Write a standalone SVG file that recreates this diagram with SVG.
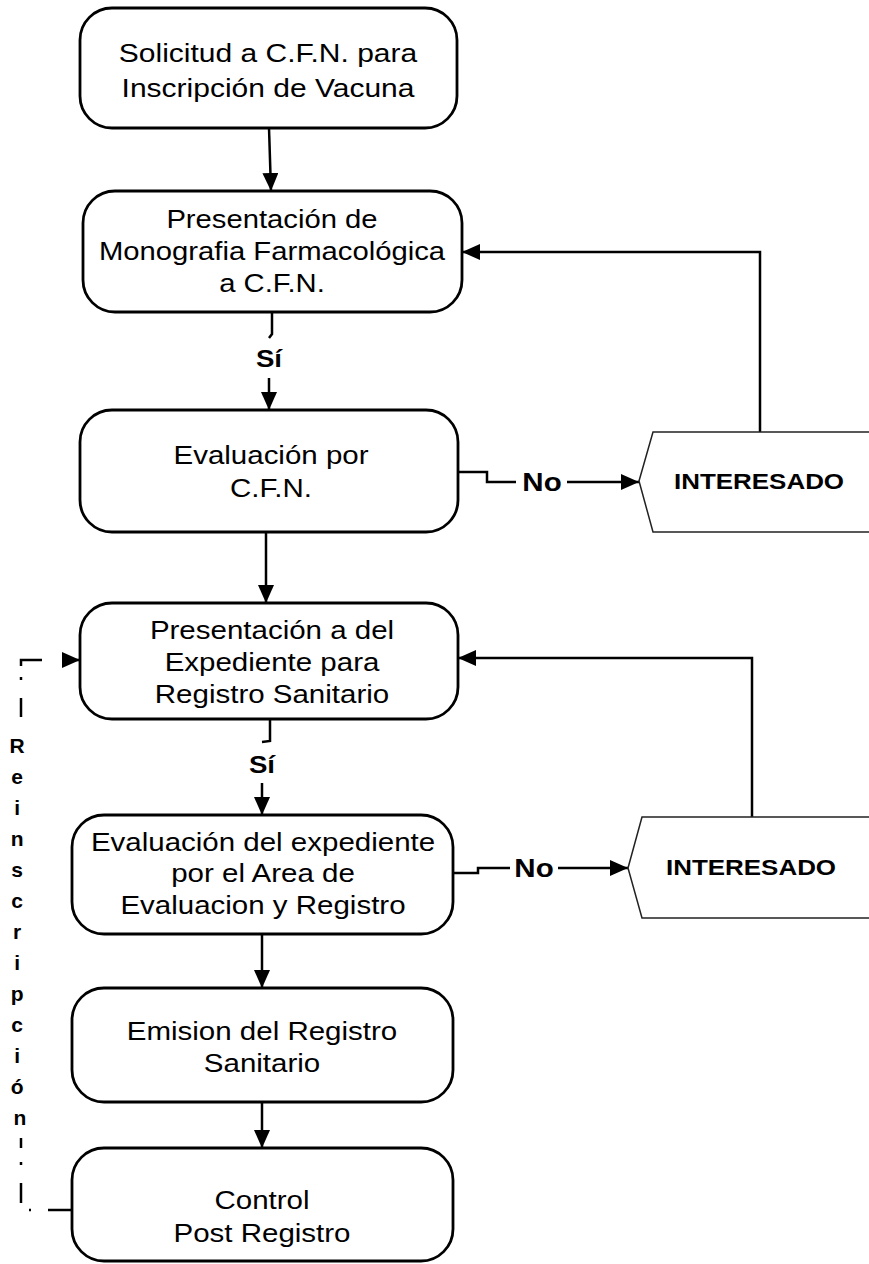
<svg xmlns="http://www.w3.org/2000/svg" width="869" height="1264" viewBox="0 0 869 1264">
<defs>
<marker id="ah" markerUnits="userSpaceOnUse" viewBox="0 0 18 16" refX="18" refY="8" markerWidth="18" markerHeight="16" orient="auto">
<path d="M0,0 L18,8 L0,16 z" fill="#000"/>
</marker>
<style>
.box{fill:#fff;stroke:#000;stroke-width:2.8}
.ext{fill:#fff;stroke:#222;stroke-width:1.5}
.t{font-family:"Liberation Sans",Arial,sans-serif;font-size:25px;fill:#000;text-anchor:middle}
.b{font-family:"Liberation Sans",Arial,sans-serif;font-weight:bold;fill:#000;text-anchor:middle}
.c{fill:none;stroke:#000;stroke-width:2.5}
.ca{fill:none;stroke:#000;stroke-width:2.5;marker-end:url(#ah)}
</style>
</defs>
<rect width="869" height="1264" fill="#fff"/>
<g id="connectors">
<path class="ca" d="M269,128 L271,191"/>
<path class="c" d="M272,312 L272,334 L269,338"/>
<path class="ca" d="M269,378 L269,410"/>
<path class="c" d="M458,472 L487,472 L487,482 L516,482"/>
<path class="ca" d="M567,482 L639,482"/>
<path class="ca" d="M760,432 L760,252 L462,252"/>
<path class="ca" d="M266,532 L266,603"/>
<path class="c" d="M270,719 L270,741 L262,742"/>
<path class="ca" d="M262,783 L262,815"/>
<path class="c" d="M453,873 L478,873 L478,868 L510,868"/>
<path class="ca" d="M558,868 L628,868"/>
<path class="ca" d="M752,817 L752,658 L458,658"/>
<path class="ca" d="M262,934 L262,988"/>
<path class="ca" d="M262,1102 L262,1148"/>
<g id="reinscripcion">
<path class="c" d="M72,1210 L48,1210"/>
<path class="c" d="M29,1210 L31,1210"/>
<path class="c" d="M21,1203 L21,1183"/>
<path class="c" d="M21,1162 L21,1165"/>
<path class="c" d="M21,1148 L21,1138"/>
<path class="c" d="M21,717 L21,698"/>
<path class="c" d="M21,677 L21,680"/>
<path class="c" d="M21,666 L21,660 L42,660"/>
<path class="ca" d="M62,660 L80,660"/>
<text class="b" font-size="21">
<tspan x="20" y="753">R</tspan>
<tspan x="20" y="784">e</tspan>
<tspan x="20" y="815">i</tspan>
<tspan x="20" y="846">n</tspan>
<tspan x="20" y="877">s</tspan>
<tspan x="20" y="908">c</tspan>
<tspan x="20" y="939">r</tspan>
<tspan x="20" y="970">i</tspan>
<tspan x="20" y="1001">p</tspan>
<tspan x="20" y="1032">c</tspan>
<tspan x="20" y="1063">i</tspan>
<tspan x="20" y="1094">ó</tspan>
<tspan x="20" y="1125">n</tspan>
</text>
</g>
<text class="b" font-size="24" transform="translate(269,0) scale(1.15,1)"><tspan x="0" y="367">Sí</tspan></text>
<text class="b" font-size="24" transform="translate(262,0) scale(1.15,1)"><tspan x="0" y="773">Sí</tspan></text>
<text class="b" font-size="25" transform="translate(542,0) scale(1.18,1)"><tspan x="0" y="491">No</tspan></text>
<text class="b" font-size="25" transform="translate(534,0) scale(1.18,1)"><tspan x="0" y="877">No</tspan></text>
</g>
<g id="n1">
<rect class="box" x="80" y="8" width="377" height="120" rx="32"/>
<text class="t" font-size="24" transform="translate(268,0) scale(1.2,1)"><tspan x="0" y="62">Solicitud a C.F.N. para</tspan><tspan x="0" y="97">Inscripción de Vacuna</tspan></text>
</g>
<g id="n2">
<rect class="box" x="83" y="191" width="379" height="121" rx="32"/>
<text class="t" font-size="25.5" transform="translate(272,0) scale(1.17,1)"><tspan x="0" y="228">Presentación de</tspan><tspan x="0" y="260">Monografia Farmacológica</tspan><tspan x="0" y="292">a C.F.N.</tspan></text>
</g>
<g id="n3">
<rect class="box" x="80" y="410" width="378" height="122" rx="32"/>
<text class="t" transform="translate(271,0) scale(1.18,1)"><tspan x="0" y="464">Evaluación por</tspan><tspan x="0" y="497">C.F.N.</tspan></text>
</g>
<g id="i1">
<polygon class="ext" points="639,481 653,432 872,432 872,532 653,532"/>
<text class="b" font-size="22" transform="translate(759,0) scale(1.18,1)"><tspan x="0" y="489">INTERESADO</tspan></text>
</g>
<g id="n4">
<rect class="box" x="80" y="603" width="378" height="116" rx="32"/>
<text class="t" transform="translate(272,0) scale(1.18,1)"><tspan x="0" y="639">Presentación a del</tspan><tspan x="0" y="671">Expediente para</tspan><tspan x="0" y="703">Registro Sanitario</tspan></text>
</g>
<g id="n5">
<rect class="box" x="72" y="815" width="381" height="119" rx="32"/>
<text class="t" transform="translate(263,0) scale(1.18,1)"><tspan x="0" y="851">Evaluación del expediente</tspan><tspan x="0" y="882">por el Area de</tspan><tspan x="0" y="914">Evaluacion y Registro</tspan></text>
</g>
<g id="i2">
<polygon class="ext" points="628,868 642,817 872,817 872,918 642,918"/>
<text class="b" font-size="22" transform="translate(751,0) scale(1.18,1)"><tspan x="0" y="875">INTERESADO</tspan></text>
</g>
<g id="n6">
<rect class="box" x="72" y="988" width="381" height="114" rx="32"/>
<text class="t" transform="translate(262,0) scale(1.18,1)"><tspan x="0" y="1040">Emision del Registro</tspan><tspan x="0" y="1072">Sanitario</tspan></text>
</g>
<g id="n7">
<rect class="box" x="72" y="1148" width="381" height="113" rx="32"/>
<text class="t" transform="translate(262,0) scale(1.18,1)"><tspan x="0" y="1209">Control</tspan><tspan x="0" y="1242">Post Registro</tspan></text>
</g>
</svg>
